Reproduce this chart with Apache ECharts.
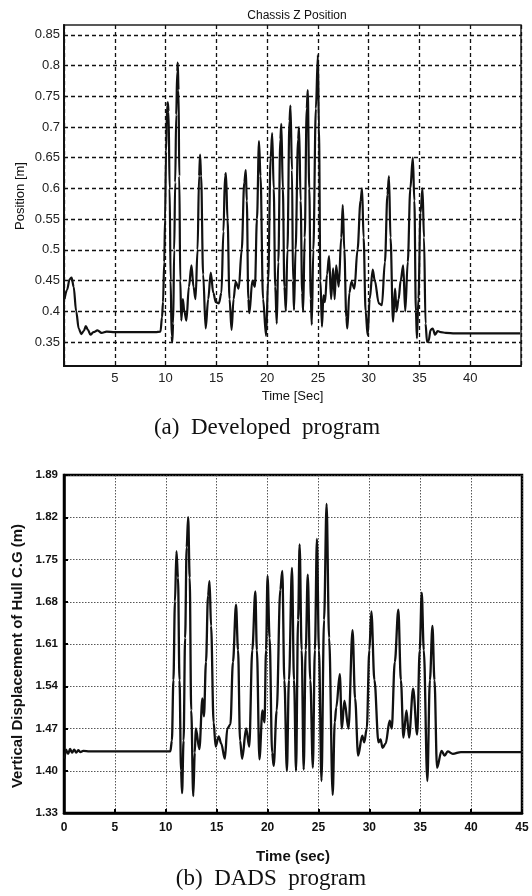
<!DOCTYPE html>
<html>
<head>
<meta charset="utf-8">
<script src="https://cdn.jsdelivr.net/npm/echarts@6/dist/echarts.min.js"></script>
<style>
  html, body { margin: 0; padding: 0; background: #fff; }
  #container { width: 532px; height: 896px; }
</style>
</head>
<body>
<div id="container"></div>
<script>
const container = document.getElementById('container');
const chartIns = echarts.init(container);

// (a) developed program: chassis Z position
const topTime = [0.05, 0.3, 0.55, 0.75, 0.95, 1.2, 1.45, 1.7, 1.95, 2.15, 2.35, 2.6, 2.9, 3.3, 3.7, 4.2, 5, 6, 7, 8, 9, 9.5,
  9.65, 9.75, 9.87, 9.95, 10.05, 10.15, 10.22, 10.3, 10.4, 10.5, 10.6, 10.66, 10.75, 10.85, 10.95, 11.05, 11.15, 11.2,
  11.28, 11.35, 11.45, 11.55, 11.7, 11.85, 12.05, 12.3, 12.55, 12.75, 12.95, 13.15, 13.3, 13.4, 13.5, 13.7, 13.95,
  14.2, 14.45, 14.7, 14.95, 15.25, 15.5, 15.7, 15.85, 15.95, 16.1, 16.3, 16.5, 16.7, 16.9, 17.2, 17.5, 17.75, 17.9,
  18.0, 18.15, 18.25, 18.55, 18.8, 19.0, 19.2, 19.35, 19.6, 19.9, 20.1, 20.35, 20.5, 20.65, 20.8, 20.95, 21.1, 21.3,
  21.4, 21.55, 21.7, 21.85, 22.0, 22.2, 22.3, 22.45, 22.55, 22.65, 22.8, 23.05, 23.15, 23.3, 23.45, 23.55, 23.7, 23.9,
  24.0, 24.15, 24.3, 24.4, 24.55, 24.8, 25.0, 25.1, 25.25, 25.4, 25.55, 25.7, 25.9, 26.1, 26.3, 26.5, 26.65, 26.8,
  27.05, 27.3, 27.45, 27.6, 27.8, 27.9, 28.1, 28.3, 28.6, 28.9, 29.2, 29.35, 29.5, 29.7, 29.9, 30.1, 30.4, 30.6, 31.0,
  31.3, 31.6, 31.85, 32.0, 32.15, 32.4, 32.6, 32.75, 32.95, 33.15, 33.4, 33.6, 33.85, 34.1, 34.35, 34.5, 34.65, 34.75,
  34.9, 35.1, 35.3, 35.45, 35.6, 35.75, 35.9, 36.1, 36.3, 36.55, 36.8, 37.1, 37.6, 38.5, 40, 42, 44.9];
const topPos = [0.42, 0.435, 0.452, 0.455, 0.44, 0.40, 0.372, 0.363, 0.368, 0.376, 0.37, 0.362, 0.366, 0.369, 0.365, 0.367, 0.366, 0.366, 0.366, 0.366, 0.366, 0.367,
  0.39, 0.415, 0.48, 0.55, 0.66, 0.735, 0.74, 0.725, 0.6, 0.45, 0.36, 0.35, 0.38, 0.5, 0.61, 0.72, 0.79, 0.805,
  0.76, 0.62, 0.45, 0.385, 0.42, 0.4, 0.385, 0.44, 0.475, 0.44, 0.42, 0.5, 0.62, 0.655, 0.62, 0.46, 0.372,
  0.42, 0.463, 0.43, 0.415, 0.413, 0.43, 0.53, 0.62, 0.625, 0.55, 0.42, 0.37, 0.42, 0.448, 0.437, 0.5, 0.61, 0.63,
  0.58, 0.42, 0.397, 0.45, 0.44, 0.55, 0.677, 0.62, 0.42, 0.36, 0.45, 0.65, 0.69, 0.6, 0.44, 0.38, 0.48, 0.68,
  0.705, 0.6, 0.44, 0.4, 0.5, 0.71, 0.735, 0.63, 0.45, 0.402, 0.5, 0.68, 0.70, 0.58, 0.43, 0.40, 0.52, 0.73,
  0.76, 0.6, 0.42, 0.378, 0.5, 0.73, 0.817, 0.7, 0.45, 0.375, 0.426, 0.415, 0.46, 0.49, 0.42, 0.47, 0.42, 0.475,
  0.44, 0.52, 0.573, 0.5, 0.39, 0.372, 0.43, 0.448, 0.437, 0.5, 0.58, 0.6, 0.52, 0.40, 0.361, 0.42, 0.468, 0.45, 0.413,
  0.41, 0.48, 0.59, 0.62, 0.52, 0.383, 0.437, 0.40, 0.42, 0.45, 0.475, 0.40, 0.48, 0.6, 0.65, 0.58, 0.40, 0.356,
  0.42, 0.56, 0.60, 0.52, 0.38, 0.35, 0.352, 0.37, 0.372, 0.362, 0.368, 0.366, 0.365, 0.364, 0.364, 0.364, 0.364];

// (b) DADS program: vertical displacement of hull C.G
const dadsTime = [0.05, 0.2, 0.4, 0.6, 0.8, 1.0, 1.2, 1.4, 1.6, 1.9, 2.5, 5, 8, 10.45,
  10.6, 10.75, 10.9, 11.05, 11.2, 11.35, 11.5, 11.6, 11.75, 11.9, 12.05, 12.2, 12.35, 12.5, 12.7, 12.85, 12.95,
  13.3, 13.6, 13.75, 13.95, 14.15, 14.3, 14.45, 14.7, 14.9, 15.2, 15.45, 15.8, 16.05, 16.35, 16.6, 16.9, 17.1,
  17.3, 17.5, 17.9, 18.2, 18.5, 18.8, 18.95, 19.2, 19.5, 19.7, 19.85, 20.0, 20.2, 20.45, 20.6, 20.9, 21.25, 21.45,
  21.65, 21.9, 22.1, 22.4, 22.6, 22.8, 23.0, 23.15, 23.35, 23.55, 23.75, 23.95, 24.2, 24.45, 24.65, 24.85, 25.05,
  25.3, 25.55, 25.8, 26.05, 26.4, 26.6, 26.75, 27.1, 27.3, 27.55, 27.95, 28.35, 28.6, 28.9, 29.3, 29.5, 29.75,
  30.0, 30.2, 30.5, 30.9, 31.1, 31.3, 31.6, 32.0, 32.2, 32.5, 32.85, 33.1, 33.35, 33.65, 33.9, 34.3, 34.7, 34.95,
  35.15, 35.35, 35.7, 35.95, 36.2, 36.4, 36.65, 37.1, 37.4, 37.7, 38.2, 39, 41, 45];
const dadsDisp = [1.42, 1.435, 1.428, 1.436, 1.43, 1.435, 1.43, 1.434, 1.431, 1.433, 1.432, 1.432, 1.432, 1.432,
  1.45, 1.55, 1.68, 1.764, 1.72, 1.55, 1.40, 1.363, 1.45, 1.62, 1.77, 1.82, 1.72, 1.5, 1.358, 1.43, 1.47,
  1.436, 1.52, 1.49, 1.58, 1.69, 1.714, 1.64, 1.48, 1.44, 1.457, 1.445, 1.42, 1.47, 1.477, 1.58, 1.675, 1.6,
  1.45, 1.42, 1.47, 1.44, 1.6, 1.697, 1.6, 1.419, 1.5, 1.48, 1.6, 1.723, 1.62, 1.43, 1.408, 1.5, 1.7, 1.731,
  1.55, 1.40, 1.55, 1.736, 1.55, 1.40, 1.65, 1.775, 1.6, 1.402, 1.6, 1.725, 1.55, 1.405, 1.6, 1.784, 1.6,
  1.383, 1.65, 1.842, 1.62, 1.36, 1.48, 1.505, 1.56, 1.47, 1.516, 1.47, 1.633, 1.52, 1.425, 1.458, 1.447, 1.47,
  1.6, 1.664, 1.55, 1.447, 1.452, 1.438, 1.445, 1.483, 1.47, 1.58, 1.667, 1.55, 1.455, 1.5, 1.455, 1.536, 1.46, 1.6,
  1.695, 1.6, 1.383, 1.55, 1.64, 1.55, 1.405, 1.433, 1.425, 1.432, 1.428, 1.431, 1.431, 1.431];

const topYTicks = [0.35, 0.4, 0.45, 0.5, 0.55, 0.6, 0.65, 0.7, 0.75, 0.8, 0.85];
const dadsYTicks = [1.33, 1.40, 1.47, 1.54, 1.61, 1.68, 1.75, 1.82, 1.89];

const zip = (xs, ys) => xs.map((x, i) => [x, ys[i]]);

const sans = 'Liberation Sans, Arial, sans-serif';
const serif = 'Liberation Serif, Times New Roman, serif';

const option = {
  animation: false,
  title: {
    text: 'Chassis Z Position',
    left: 292,
    top: 5,
    textAlign: 'center',
    textStyle: { fontFamily: sans, fontSize: 12, fontWeight: 'normal', color: '#111' }
  },
  grid: [
    { left: 64, top: 25, width: 457, height: 341, show: true, borderColor: '#222', borderWidth: 1.5 },
    { left: 64, top: 475, width: 458, height: 338, show: true, borderColor: '#000', borderWidth: 2.5 }
  ],
  xAxis: [
    {
      type: 'value', gridIndex: 0, min: 0, max: 45, interval: 5,
      axisLine: { show: true, onZero: false, lineStyle: { color: '#111', width: 2 } },
      axisTick: { show: false },
      axisLabel: { showMinLabel: false, showMaxLabel: false, margin: 6, fontFamily: sans, fontSize: 13, color: '#222' },
      splitLine: { show: true, lineStyle: { color: '#111', width: 1.3, type: [4, 3] } },
      name: 'Time [Sec]', nameLocation: 'middle', nameGap: 24,
      nameTextStyle: { fontFamily: sans, fontSize: 13, color: '#111' }
    },
    {
      type: 'value', gridIndex: 1, min: 0, max: 45, interval: 5,
      axisLine: { show: true, onZero: false, lineStyle: { color: '#000', width: 2.5 } },
      axisTick: { show: true, inside: true, length: 4, lineStyle: { color: '#000', width: 2 } },
      axisLabel: { margin: 9, fontFamily: sans, fontSize: 12, fontWeight: 'bold', color: '#111' },
      splitLine: { show: true, lineStyle: { color: '#444', width: 0.9, type: [1.5, 1.5] } },
      name: 'Time (sec)', nameLocation: 'middle', nameGap: 36,
      nameTextStyle: { fontFamily: sans, fontSize: 15, fontWeight: 'bold', color: '#111' }
    }
  ],
  yAxis: [
    {
      type: 'value', gridIndex: 0, min: 0.311, max: 0.866,
      axisLine: { show: true, onZero: false, lineStyle: { color: '#111', width: 2 } },
      axisTick: { show: false, customValues: topYTicks },
      axisLabel: {
        customValues: topYTicks, margin: 4, fontFamily: sans, fontSize: 13, color: '#222',
        formatter: v => String(+v.toFixed(2))
      },
      splitLine: { show: true, lineStyle: { color: '#111', width: 1.3, type: [4, 3] } }
    },
    {
      type: 'value', gridIndex: 1, min: 1.33, max: 1.89,
      axisLine: { show: true, onZero: false, lineStyle: { color: '#000', width: 2.5 } },
      axisTick: { show: true, inside: true, length: 4, customValues: dadsYTicks, lineStyle: { color: '#000', width: 2 } },
      axisLabel: {
        customValues: dadsYTicks, margin: 6, fontFamily: sans, fontSize: 11.5, fontWeight: 'bold', color: '#111',
        formatter: v => v.toFixed(2)
      },
      splitLine: { show: true, lineStyle: { color: '#444', width: 0.9, type: [1.5, 1.5] } }
    }
  ],
  graphic: [
    {
      type: 'text', x: 20, y: 196, rotation: Math.PI / 2,
      style: { text: 'Position [m]', align: 'center', verticalAlign: 'middle', font: '13px ' + sans, fill: '#111' }
    },
    {
      type: 'text', x: 267, y: 428,
      style: { text: '(a)  Developed  program', align: 'center', verticalAlign: 'middle', font: '23px ' + serif, fill: '#111' }
    },
    {
      type: 'text', x: 18, y: 656, rotation: Math.PI / 2,
      style: { text: 'Vertical Displacement of Hull C.G (m)', align: 'center', verticalAlign: 'middle', font: 'bold 15px ' + sans, fill: '#111' }
    },
    {
      type: 'text', x: 271, y: 879,
      style: { text: '(b)  DADS  program', align: 'center', verticalAlign: 'middle', font: '23px ' + serif, fill: '#111' }
    }
  ],
  series: [
    {
      type: 'line', xAxisIndex: 0, yAxisIndex: 0,
      data: zip(topTime, topPos),
      showSymbol: false, smooth: 0.35, smoothMonotone: 'x',
      lineStyle: { color: '#111', width: 2.2 }
    },
    {
      type: 'line', xAxisIndex: 1, yAxisIndex: 1,
      data: zip(dadsTime, dadsDisp),
      showSymbol: false, smooth: 0.35, smoothMonotone: 'x',
      lineStyle: { color: '#111', width: 2.3 }
    }
  ]
};

chartIns.setOption(option);
</script>
</body>
</html>
